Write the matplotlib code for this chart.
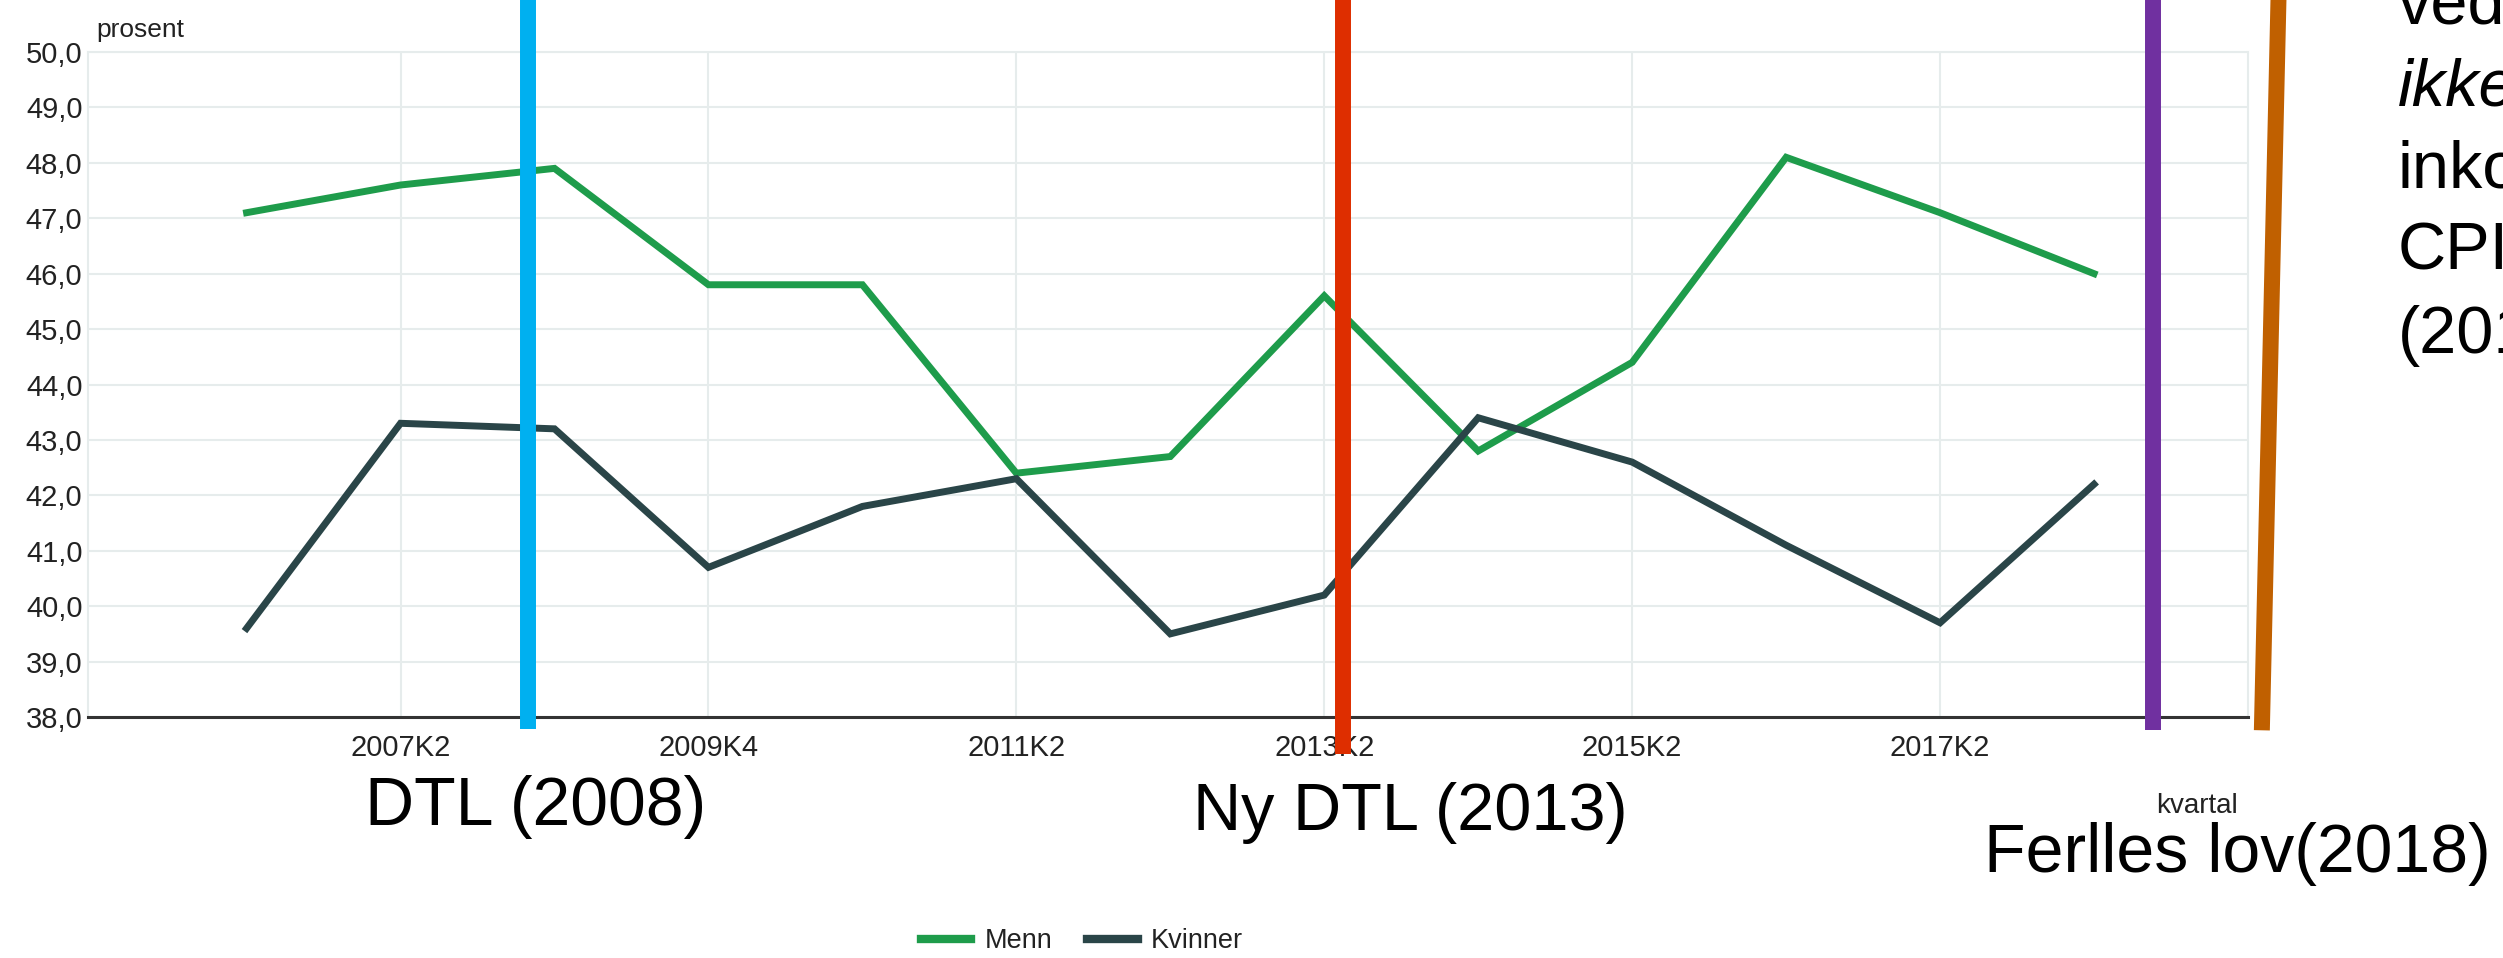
import matplotlib
matplotlib.use("Agg")
import matplotlib.pyplot as plt
import matplotlib.transforms as mtransforms

plt.rcParams['font.family'] = ['Liberation Sans', 'DejaVu Sans']

# ---- data ----
periods = ["2006K2", "2007K2", "2008K2", "2009K4", "2010K2", "2011K2", "2012K2",
           "2013K2", "2014K2", "2015K2", "2016K2", "2017K2", "2018K2"]
menn = [47.1, 47.6, 47.9, 45.8, 45.8, 42.4, 42.7, 45.6, 42.8, 44.4, 48.1, 47.1, 46.0]
kvinner = [39.6, 43.3, 43.2, 40.7, 41.8, 42.3, 39.5, 40.2, 43.4, 42.6, 41.1, 39.7, 42.2]
tick_labels = ["2007K2", "2009K4", "2011K2", "2013K2", "2015K2", "2017K2"]
y_ticks = [38, 39, 40, 41, 42, 43, 44, 45, 46, 47, 48, 49, 50]

# event markers (position in category units)
events = [
    {"x0": 1.83, "x1": 1.83, "color": "#00B0F0", "bottom": -0.018},
    {"x0": 7.12, "x1": 7.12, "color": "#DE2E00", "bottom": -0.056},
    {"x0": 12.38, "x1": 12.38, "color": "#7030A0", "bottom": -0.02},
    {"x0": 13.20, "x1": 13.09, "color": "#C06000", "bottom": -0.02},
]

W, H = 2503, 958
fig = plt.figure(figsize=(W / 100, H / 100), dpi=100)
ax = fig.add_axes([88 / W, 1 - 717 / H, (2248 - 88) / W, (717 - 52) / H])

xs = list(range(len(periods)))
ax.plot(xs, menn, color="#1E9C4B", lw=5, label="Menn", solid_joinstyle="miter", zorder=3)
ax.plot(xs, kvinner, color="#2A4548", lw=5, label="Kvinner", solid_joinstyle="miter", zorder=3)

ax.set_xlim(-1.03, 13.0)
ax.set_ylim(38, 50)
ax.set_yticks(y_ticks)
ax.set_yticklabels([f"{v:.1f}".replace(".", ",") for v in y_ticks])
tick_pos = [periods.index(t) for t in tick_labels]
ax.set_xticks(tick_pos)
ax.set_xticklabels(tick_labels)

grid_c = "#E6ECEC"
ax.grid(True, color=grid_c, lw=1.5, zorder=0)
ax.tick_params(axis="both", length=0, labelsize=21, colors="#222222")
ax.tick_params(axis="x", pad=12)
ax.tick_params(axis="y", pad=4)
for s in ["left", "right", "top"]:
    ax.spines[s].set_color(grid_c)
    ax.spines[s].set_linewidth(1.5)
ax.spines["bottom"].set_color("#333333")
ax.spines["bottom"].set_linewidth(2.2)
ax.set_axisbelow(True)

ax.text(0.004, 1.0226, "prosent", transform=ax.transAxes, fontsize=19,
        color="#222222", va="baseline", ha="left")

# event lines
trans = mtransforms.blended_transform_factory(ax.transData, ax.transAxes)
for ev in events:
    ax.plot([ev["x0"], ev["x1"]], [1.1, ev["bottom"]], color=ev["color"], lw=11.5,
            transform=trans, clip_on=False, solid_capstyle="butt", zorder=5)

# annotations
def ftext(x, y, s, **kw):
    fig.text(x / W, 1 - y / H, s, va="baseline", **kw)

ftext(536, 825, "DTL (2008)", fontsize=49, ha="center")
ftext(1410, 830, "Ny DTL (2013)", fontsize=48, ha="center")
ftext(2237, 872, "Ferlles lov(2018)", fontsize=49, ha="center")
ftext(2197, 813, "kvartal", fontsize=20, ha="center", color="#222222")

right_lines = [("ved", "normal", 23), ("ikke", "italic", 105), ("inko", "normal", 188),
               ("CPI", "normal", 270), ("(201", "normal", 353)]
for s, style, yb in right_lines:
    ftext(2398, yb, s, fontsize=48, ha="left", style=style)

fig.legend(loc="center", bbox_to_anchor=(1082 / W, 1 - 941 / H), ncol=2, frameon=False,
           fontsize=19.5, handlelength=1.85, handletextpad=0.5, columnspacing=1.3,
           labelcolor="#222222")
for lh in fig.legends[0].get_lines():
    lh.set_linewidth(6)

fig.savefig("out.png", dpi=100)
